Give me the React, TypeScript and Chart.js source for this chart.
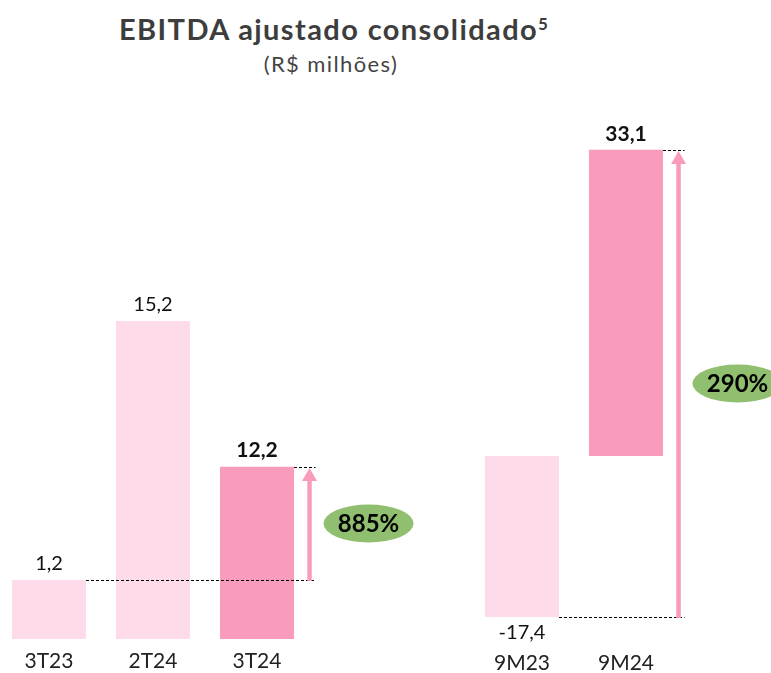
import React, { useEffect, useRef } from 'react';
import { Chart, registerables } from 'chart.js';

Chart.register(...registerables);

const TITLE = 'EBITDA ajustado consolidado';
const TITLE_SUP = '5';
const SUBTITLE = '(R$ milhões)';

// Quarterly panel
const quarterLabels = ['3T23', '2T24', '3T24'];
const quarterValues = [1.2, 15.2, 12.2];
// the source does not draw these bars to scale: drawn heights (panel units)
const quarterBarHeights = [6.4, 34.5, 18.7];
const quarterGrowth = '885%';

// Year-to-date panel
const ytdLabels = ['9M23', '9M24'];
const ytdValues = [-17.4, 33.1];
const ytdGrowth = '290%';

const LIGHT = '#fddbea';
const DARK = '#f99bbd';
const GREEN = '#8fbf6f';
const FONT = 'Lato';

const fmt = (v: number) => v.toFixed(1).replace('.', ',');

const annotate = {
  id: 'annotate',
  afterDatasetsDraw(chart: any, _args: any, opts: any) {
    const { ctx } = chart;
    const bars = chart.getDatasetMeta(0).data as any[];
    ctx.save();
    ctx.textAlign = 'center';
    ctx.textBaseline = 'middle';
    bars.forEach((bar, i) => {
      const v = opts.values[i];
      const bold = i === opts.highlight;
      ctx.font = `${bold ? 'bold 21px' : '20px'} ${FONT}`;
      ctx.fillStyle = '#111';
      const y = v < 0 ? bar.y + 16 : bar.y - 16;
      ctx.fillText(fmt(v), bar.x, y);
    });
    const from = bars[opts.from];
    const to = bars[opts.to];
    const fromY = Math.round(from.y);
    const toY = Math.round(to.y);
    const toRight = to.x + to.width / 2;
    const ax = toRight + 15.5;
    const endX = ax + 6;
    // dashed guide lines
    ctx.strokeStyle = '#000';
    ctx.lineWidth = 1;
    ctx.setLineDash([3, 2]);
    ctx.beginPath();
    ctx.moveTo(from.x + from.width / 2, fromY + 0.5);
    ctx.lineTo(endX, fromY + 0.5);
    ctx.moveTo(toRight, toY + 0.5);
    ctx.lineTo(endX, toY + 0.5);
    ctx.stroke();
    ctx.setLineDash([]);
    // arrow
    const head = 13;
    ctx.fillStyle = DARK;
    ctx.fillRect(ax - 2.25, toY + head, 4.5, fromY - toY - head + 1);
    ctx.beginPath();
    ctx.moveTo(ax, toY + 1);
    ctx.lineTo(ax - 7.5, toY + head + 1);
    ctx.lineTo(ax + 7.5, toY + head + 1);
    ctx.closePath();
    ctx.fill();
    // growth ellipse
    const ex = ax + 59;
    const ey = (fromY + toY) / 2;
    ctx.fillStyle = GREEN;
    ctx.beginPath();
    ctx.ellipse(ex, ey, 45, 19, 0, 0, Math.PI * 2);
    ctx.fill();
    ctx.fillStyle = '#000';
    ctx.font = `bold 24px ${FONT}`;
    ctx.fillText(opts.growth, ex, ey + 1);
    ctx.restore();
  },
};

function makeConfig(
  labels: string[],
  data: number[],
  colors: string[],
  yMin: number,
  yMax: number,
  padRight: number,
  axisHeight: number,
  ann: any
): any {
  return {
    type: 'bar',
    data: {
      labels,
      datasets: [
        {
          data,
          backgroundColor: colors,
          borderWidth: 0,
          categoryPercentage: 1,
          barPercentage: 0.712,
        },
      ],
    },
    options: {
      responsive: false,
      animation: false,
      layout: { padding: { top: 86, right: padRight, left: 0, bottom: 0 } },
      scales: {
        x: {
          grid: { display: false, drawTicks: false },
          border: { display: false },
          ticks: { font: { family: FONT, size: 21 }, color: '#222', padding: 10 },
          afterFit: (s: any) => {
            s.height = axisHeight;
          },
        },
        y: { display: false, min: yMin, max: yMax },
      },
      plugins: {
        legend: { display: false },
        tooltip: { enabled: false },
        annotate: ann,
      },
    },
    plugins: [annotate],
  };
}

export default function App() {
  const leftRef = useRef<HTMLCanvasElement>(null);
  const rightRef = useRef<HTMLCanvasElement>(null);

  useEffect(() => {
    const left = new Chart(
      leftRef.current!,
      makeConfig(quarterLabels, quarterBarHeights, [LIGHT, LIGHT, DARK], 0, 60, 161, 34, {
        values: quarterValues,
        highlight: 2,
        from: 0,
        to: 2,
        growth: quarterGrowth,
      })
    );
    const right = new Chart(
      rightRef.current!,
      makeConfig(ytdLabels, ytdValues, [LIGHT, DARK], -20, 40, 93, 32, {
        values: ytdValues,
        highlight: 1,
        from: 0,
        to: 1,
        growth: ytdGrowth,
      })
    );
    return () => {
      left.destroy();
      right.destroy();
    };
  }, []);

  return (
    <div
      style={{
        position: 'absolute',
        left: 0,
        top: 0,
        width: 771,
        height: 673,
        overflow: 'hidden',
        background: '#fff',
      }}
    >
      <div
        style={{
          position: 'absolute',
          left: 0,
          width: 667,
          top: 15,
          textAlign: 'center',
          fontFamily: FONT,
          fontWeight: 700,
          fontSize: 29,
          letterSpacing: 1.4,
          lineHeight: '28px',
          color: '#3d3d3d',
          whiteSpace: 'nowrap',
        }}
      >
        {TITLE}
        <span style={{ fontSize: 17, position: 'relative', top: -10, letterSpacing: 0 }}>{TITLE_SUP}</span>
      </div>
      <div
        style={{
          position: 'absolute',
          left: 0,
          width: 662,
          top: 52,
          textAlign: 'center',
          fontFamily: FONT,
          fontSize: 22,
          letterSpacing: 1.4,
          lineHeight: '24px',
          color: '#444',
          whiteSpace: 'nowrap',
        }}
      >
        {SUBTITLE}
      </div>
      <canvas
        ref={leftRef}
        width={473}
        height={673}
        style={{ position: 'absolute', left: -3, top: 0, width: 473, height: 673 }}
      />
      <canvas
        ref={rightRef}
        width={301}
        height={673}
        style={{ position: 'absolute', left: 470, top: 0, width: 301, height: 673 }}
      />
    </div>
  );
}
